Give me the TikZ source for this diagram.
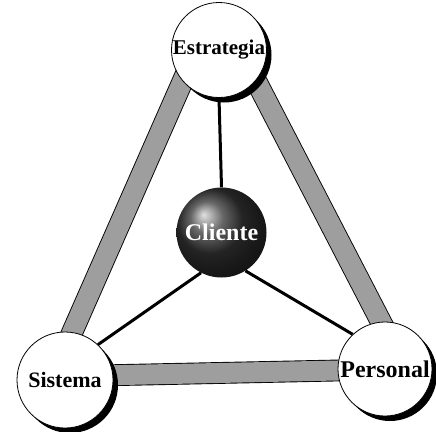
\documentclass[tikz,border=0pt]{standalone}
\usepackage{fontspec}
\setmainfont{Liberation Serif}
\usetikzlibrary{shadows,backgrounds}
\begin{document}
\begin{tikzpicture}[x=1pt,y=-1pt,
  disc/.style={circle, draw=black, line width=0.8pt, fill=white, inner sep=0pt,
    drop shadow={shadow xshift=5pt, shadow yshift=-5pt, opacity=1, fill=black}},
  band/.style={line width=0.9pt, draw=black, double=black!38, double distance=20pt},
  spoke/.style={line width=3pt, draw=black}]
\useasboundingbox (0,0) rectangle (436,431);
% outer circles
\node[disc, minimum size=95pt, font=\bfseries\fontsize{21}{23}\selectfont] (E) at (219,50) {Estrategia};
\node[disc, minimum size=96pt, font=\bfseries\fontsize{22}{24}\selectfont] (S) at (65,380) {Sistema};
\node[disc, minimum size=94pt, font=\bfseries\fontsize{24}{26}\selectfont] (P) at (385,369) {Personal};
% centre sphere
\node[circle, minimum size=90pt, inner sep=0pt, ball color=black!80, text=white,
  font=\bfseries\fontsize{24}{26}\selectfont] (C) at (221.5,232.5) {Cliente};
% band end points (hidden under the circles)
\coordinate (l1) at (198.6,45);
\coordinate (l2) at (53.4,375);
\coordinate (r1) at (237.5,45);
\coordinate (r2) at (400.7,360);
\coordinate (b1) at (60,376.3);
\coordinate (b2) at (390,369.4);
\begin{scope}[on background layer]
  \draw[band] (l1) -- (l2);
  \draw[band] (r1) -- (r2);
  \draw[band] (b1) -- (b2);
\end{scope}
% spokes
\draw[spoke] (C.90) -- (E.270);
\draw[spoke] (C.243) -- (S.47);
\draw[spoke] (C.302) -- (P.133);
\end{tikzpicture}
\end{document}
